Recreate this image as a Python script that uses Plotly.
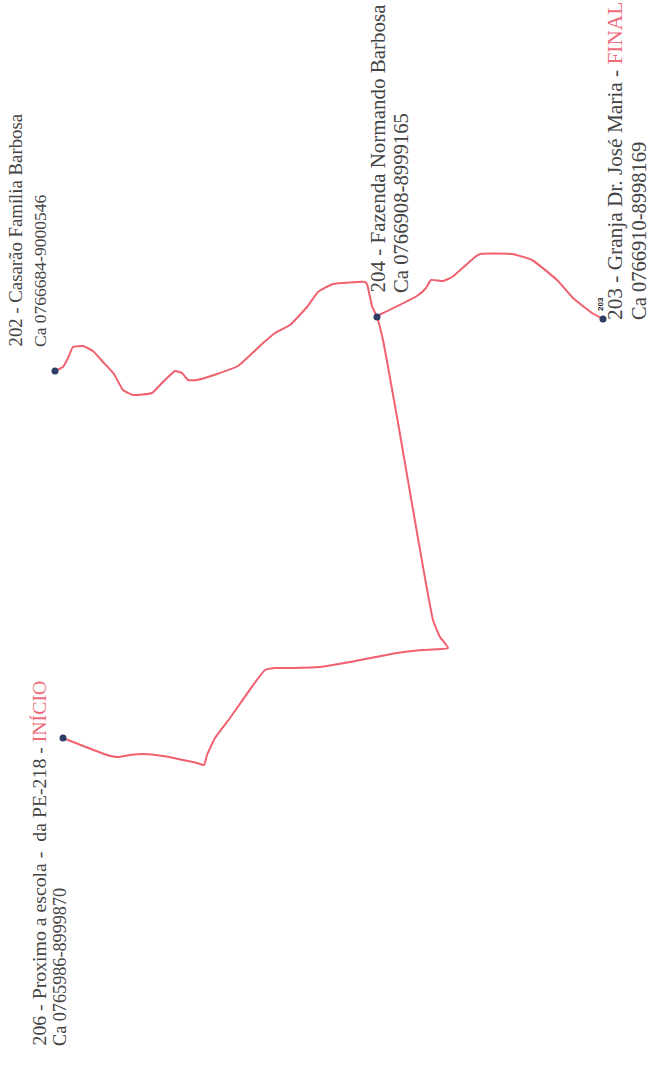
import plotly.graph_objects as go

route_x = [63,107,118,130,143,163,197,204,207,215,230,265,275,293,320,350,397,422,448,440,433,397,383,377,
           372,367,365,333,318,307,290,275,262,238,217,197,188,182,175,162,152,133,123,114,103,93,83,73,68,63,55]
route_y = [738,755,757,755,754,756,763,765,755,738,718,670,668,668,667,662,653,650,648,637,620,417,340,317,
           306,284,282,284,292,307,325,333,344,366,374,380,380,373,371,383,393,395,390,374,362,351,346,347,358,367,371]
branch_x = [377,417,426,431,443,452,475,480,512,532,557,573,592,603]
branch_y = [316,296,288,280,281,277,257,254,254,260,280,298,313,319]
stop_x = [63,55,377,603]
stop_y = [738,371,317,319]

label_texts = [
    "206 - Proximo a escola -  da PE-218 - <span style='color:#ef6a78'>INÍCIO</span>",
    "Ca 0765986-8999870",
    "202 - Casarão Família Barbosa",
    "Ca 0766684-9000546",
    "204 - Fazenda Normando Barbosa",
    "Ca 0766908-8999165",
    "203 - Granja Dr. José Maria - <span style='color:#ef6a78'>FINAL</span>",
    "Ca 0766910-8998169",
]

RED = "#f0606f"
NAVY = "#2d3d63"
label_pos = [(38, 1048, 19.8), (60, 1048, 18.2), (15, 349, 18.8), (40, 349, 17.5),
             (377, 295, 21), (401, 295, 20.7), (615, 322, 21.3), (639, 322, 20.5)]

fig = go.Figure()
for xs, ys in ((route_x, route_y), (branch_x, branch_y)):
    fig.add_trace(go.Scatter(x=xs, y=ys, mode="lines",
                             line=dict(color=RED, width=2, shape="spline", smoothing=0.4), hoverinfo="skip"))
fig.add_trace(go.Scatter(x=stop_x, y=stop_y, mode="markers", marker=dict(color=NAVY, size=7), hoverinfo="skip"))

for t, (x, y, s) in zip(label_texts, label_pos):
    fig.add_annotation(x=x, y=y, text=t, textangle=-90, showarrow=False, xanchor="center", yanchor="bottom",
                       font=dict(family="Liberation Serif", size=s, color="#444444"))
fig.add_annotation(x=600, y=304, text="<b>203</b>", textangle=-90, showarrow=False,
                   font=dict(family="Liberation Sans", size=8, color="#222222"))

fig.update_layout(
    width=650, height=1077, margin=dict(l=0, r=0, t=0, b=0), showlegend=False,
    paper_bgcolor="white", plot_bgcolor="white",
    xaxis=dict(range=[0, 650], visible=False, fixedrange=True),
    yaxis=dict(range=[1077, 0], visible=False, fixedrange=True),
)
fig.write_html("out.html", config=dict(displayModeBar=False),
               post_script="document.body.style.margin='0';document.documentElement.style.overflow='hidden';")
